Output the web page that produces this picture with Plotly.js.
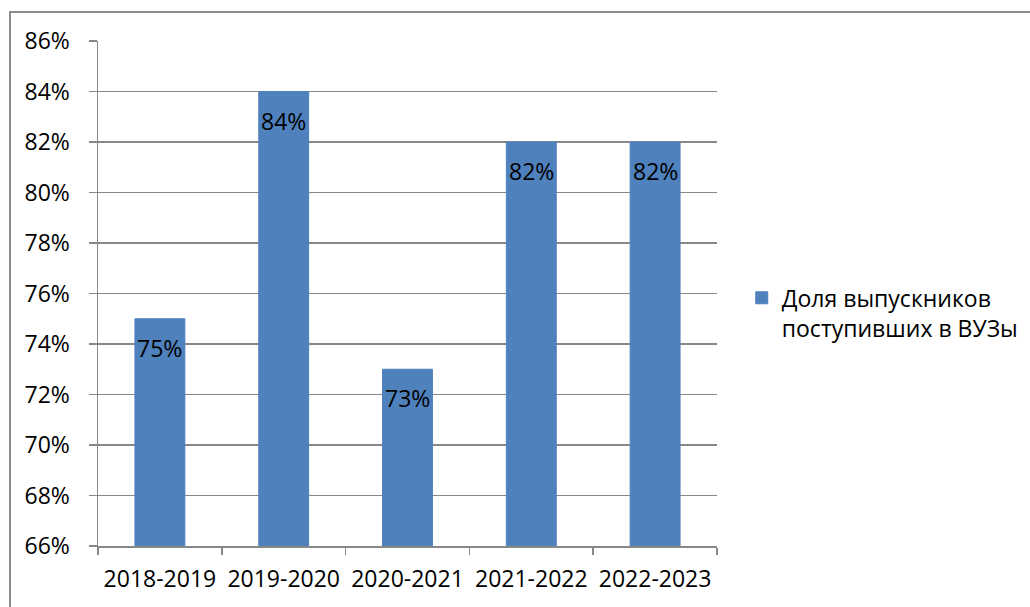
<!DOCTYPE html>
<html><head><meta charset="utf-8">
<script src="https://cdn.plot.ly/plotly-3.0.1.min.js"></script>
<style>
html,body{margin:0;padding:0;background:#fff;overflow:hidden;}
#wrap{position:relative;width:1030px;height:607px;}
#chart{position:absolute;left:0;top:0;width:1030px;height:607px;}
#frame{position:absolute;left:9px;top:11px;width:1040px;height:620px;border-left:2px solid #8c8c8c;border-top:2px solid #8c8c8c;pointer-events:none;}
</style>
</head><body>
<div id="wrap"><div id="chart"></div><div id="frame"></div></div>
<script>
const categories = ['2018-2019','2019-2020','2020-2021','2021-2022','2022-2023'];
const shares = [0.75, 0.84, 0.73, 0.82, 0.82];
const seriesName = 'Доля выпускников<br>поступивших в ВУЗы';
const yTickVals = [0.66,0.68,0.70,0.72,0.74,0.76,0.78,0.80,0.82,0.84,0.86];

const FONT = 'Open Sans, Noto Sans, sans-serif';
const trace = {
  type: 'bar', x: categories, y: shares, name: seriesName,
  marker: {color: '#4F81BD', line: {color: '#4F81BD', width: 1}},
  hoverinfo: 'none'
};
const annotations = categories.map((c, i) => ({
  x: c, y: shares[i], xref: 'x', yref: 'y',
  text: Math.round(shares[i] * 100) + '%',
  showarrow: false, yanchor: 'middle', yshift: -29,
  font: {family: FONT, size: 23, color: '#000'}
}));
const layout = {
  width: 1030, height: 607,
  margin: {l: 98, r: 313, t: 41, b: 61, autoexpand: false},
  paper_bgcolor: '#fff', plot_bgcolor: '#fff',
  font: {family: FONT, size: 23, color: '#000'},
  bargap: 0.597,
  showlegend: true,
  legend: {x: 1.04, xanchor: 'left', y: 0.534, yanchor: 'top', valign: 'top',
           font: {family: FONT, size: 23, color: '#000'}, bgcolor: 'rgba(0,0,0,0)'},
  xaxis: {type: 'category', showgrid: false, showline: true, linecolor: '#888', linewidth: 1.5,
          ticks: 'outside', tickson: 'boundaries', ticklen: 7, tickcolor: '#888', tickwidth: 1.5,
          tickfont: {family: FONT, size: 23, color: '#000'}, ticklabelstandoff: 12},
  yaxis: {range: [0.66, 0.86], tickvals: yTickVals, tickformat: '.0%',
          showgrid: true, gridcolor: '#888', gridwidth: 1.5,
          showline: true, linecolor: '#888', linewidth: 1.5,
          ticks: 'outside', ticklen: 8, tickcolor: '#888', tickwidth: 1.5,
          zeroline: false, tickfont: {family: FONT, size: 23, color: '#000'}, ticklabelstandoff: 14},
  annotations: annotations
};
Plotly.newPlot('chart', [trace], layout, {staticPlot: true, displayModeBar: false});
</script>
</body></html>
